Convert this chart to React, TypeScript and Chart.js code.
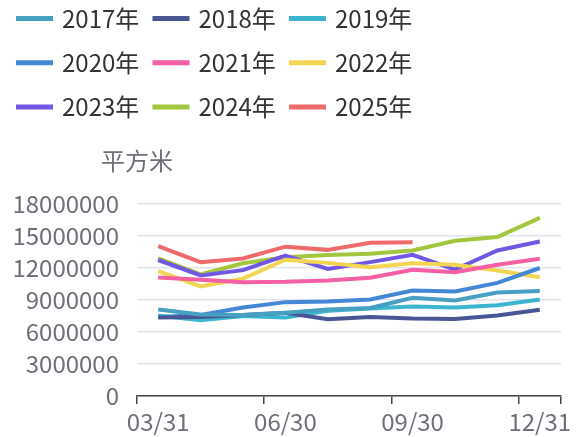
import React, { useEffect, useRef } from "react";
import { Chart, registerables } from "chart.js";

Chart.register(...registerables);

const categories = ["03/31", "04/30", "05/31", "06/30", "07/31", "08/31", "09/30", "10/31", "11/30", "12/31"];

const s2017 = [8100000, 7650000, 7600000, 7800000, 8100000, 8250000, 9200000, 8950000, 9700000, 9850000];
const s2018 = [7350000, 7400000, 7600000, 7800000, 7200000, 7400000, 7270000, 7230000, 7550000, 8080000];
const s2019 = [7550000, 7100000, 7500000, 7350000, 8000000, 8200000, 8400000, 8300000, 8500000, 9050000];
const s2020 = [7400000, 7600000, 8300000, 8800000, 8870000, 9050000, 9890000, 9800000, 10600000, 12000000];
const s2021 = [11100000, 10900000, 10670000, 10700000, 10830000, 11080000, 11830000, 11600000, 12300000, 12860000];
const s2022 = [11700000, 10270000, 11000000, 12770000, 12480000, 12080000, 12450000, 12300000, 11770000, 11140000];
const s2023 = [12750000, 11300000, 11800000, 13170000, 11920000, 12550000, 13230000, 11850000, 13640000, 14480000];
const s2024 = [12900000, 11400000, 12450000, 13000000, 13230000, 13330000, 13640000, 14550000, 14900000, 16700000];
const s2025 = [14040000, 12540000, 12900000, 14000000, 13700000, 14360000, 14420000];

const seriesNames = ["2017年", "2018年", "2019年", "2020年", "2021年", "2022年", "2023年", "2024年", "2025年"];
const seriesData = [s2017, s2018, s2019, s2020, s2021, s2022, s2023, s2024, s2025];
const seriesColors = ["#47a0c2", "#4a5596", "#3cb6d0", "#4487d5", "#f55fa5", "#f2d553", "#7257e4", "#a2c63e", "#ef6a6a"];

const yTicks = { min: 0, max: 18000000, step: 3000000 };
const unitLabel = "平方米";

const FONT = '"Noto Sans CJK SC", "Noto Sans", sans-serif';

const decorPlugin = {
  id: "decor",
  afterDraw(chart: any) {
    const ctx = chart.ctx;
    const area = chart.chartArea;
    ctx.save();
    // axis name
    ctx.font = `24px ${FONT}`;
    ctx.fillStyle = "#6E7079";
    ctx.textAlign = "center";
    ctx.textBaseline = "middle";
    ctx.fillText(unitLabel, area.left, area.top - 43);
    // legend
    ctx.textAlign = "left";
    seriesNames.forEach((name, i) => {
      const col = i % 3;
      const row = Math.floor(i / 3);
      const x = 16 + col * 136.5;
      const y = 18.5 + row * 44.3;
      ctx.strokeStyle = seriesColors[i];
      ctx.lineWidth = 5;
      ctx.lineCap = "butt";
      ctx.beginPath();
      ctx.moveTo(x, y);
      ctx.lineTo(x + 37, y);
      ctx.stroke();
      ctx.fillStyle = "#333";
      ctx.fillText(name, x + 46, y);
    });
    ctx.restore();
  },
};

export default function App() {
  const ref = useRef<HTMLCanvasElement>(null);
  useEffect(() => {
    if (!ref.current) return;
    const chart = new Chart(ref.current, {
      type: "line",
      data: {
        labels: categories,
        datasets: seriesNames.map((name, i) => ({
          label: name,
          data: seriesData[i],
          borderColor: seriesColors[i],
          backgroundColor: seriesColors[i],
          borderWidth: 4,
          pointRadius: 0,
          tension: 0,
          fill: false,
        })),
      },
      options: {
        responsive: false,
        animation: false,
        layout: { padding: { top: 204, right: 16, left: 0, bottom: 0 } },
        plugins: {
          legend: { display: false },
          title: { display: false },
          tooltip: { enabled: false },
        },
        scales: {
          x: {
            type: "category",
            offset: true,
            afterFit(scale: any) {
              scale.height = 41;
            },
            grid: {
              offset: true,
              drawOnChartArea: false,
              drawTicks: true,
              tickLength: 8,
              lineWidth: 1.5,
              color: (c: any) => (c.index === undefined || c.index % 3 === 0 ? "#444" : "rgba(0,0,0,0)"),
              tickColor: (c: any) => (c.index === undefined || c.index % 3 === 0 ? "#444" : "rgba(0,0,0,0)"),
            },
            border: { display: true, color: "#444", width: 1.5 },
            ticks: {
              autoSkip: false,
              maxRotation: 0,
              padding: 3,
              color: "#6E7079",
              font: { size: 24, family: FONT },
              callback: (_v: any, idx: number) => (idx % 3 === 0 ? categories[idx] : ""),
            },
          },
          y: {
            min: yTicks.min,
            max: yTicks.max,
            afterFit(scale: any) {
              scale.width = 137;
            },
            grid: { color: "#dfe4ef", lineWidth: 1.5, drawTicks: false },
            border: { display: false },
            ticks: {
              stepSize: yTicks.step,
              padding: 18,
              color: "#6E7079",
              font: { size: 24, family: FONT },
              callback: (v: any) => String(v),
            },
          },
        },
      },
      plugins: [decorPlugin],
    });
    return () => chart.destroy();
  }, []);
  return (
    <div style={{ position: "absolute", left: 0, top: 0, width: 577, height: 437 }}>
      <canvas ref={ref} width={577} height={437} style={{ width: 577, height: 437 }} />
    </div>
  );
}
